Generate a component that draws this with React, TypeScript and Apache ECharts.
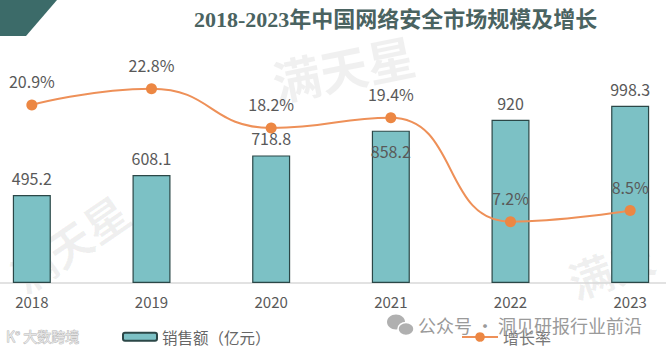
import React, { useEffect, useRef } from "react";
import * as echarts from "echarts";

const years = ["2018", "2019", "2020", "2021", "2022", "2023"];
const sales = [495.2, 608.1, 718.8, 858.2, 920, 998.3];
const growth = [20.9, 22.8, 18.2, 19.4, 7.2, 8.5];
const salesName = "销售额（亿元）";
const growthName = "增长率";
const titleText = "2018-2023年中国网络安全市场规模及增长";

const FONT = "'Noto Sans CJK SC', 'Noto Sans', sans-serif";
// The plotting area extends past both page edges in the reference;
// the chart canvas is shifted left by OFF and widened accordingly.
const OFF = 28;
const W = 718;

export default function App() {
  const ref = useRef<HTMLDivElement>(null);
  useEffect(() => {
    if (!ref.current) return;
    const chart = echarts.init(ref.current, null, { renderer: "svg" });
    const wm = "rgba(0,0,0,0.06)";
    chart.setOption({
      animation: false,
      backgroundColor: "#ffffff",
      title: {
        text: titleText,
        left: 189 + OFF,
        top: 3,
        textStyle: {
          fontSize: 22,
          fontWeight: "bold",
          color: "#4a6361",
          fontFamily: "'Liberation Serif', 'Noto Sans CJK SC', serif",
        },
      },
      grid: { left: 0, right: 0, top: 70, bottom: 69 },
      legend: [
        {
          data: [salesName],
          left: 117 + OFF,
          top: 324,
          itemWidth: 34,
          itemHeight: 8,
          itemGap: 3,
          textStyle: { fontSize: 15.5, color: "#666666", fontFamily: FONT },
        },
        {
          data: [growthName],
          left: 456 + OFF,
          top: 324,
          itemWidth: 36,
          itemHeight: 12,
          itemGap: 3,
          textStyle: { fontSize: 16, color: "#777777", fontFamily: FONT },
        },
      ],
      xAxis: {
        type: "category",
        data: years,
        axisLine: { lineStyle: { color: "#d9d9d9", width: 1.5 } },
        axisTick: { show: false },
        axisLabel: { fontSize: 15, color: "#595959", margin: 11, fontFamily: FONT },
      },
      yAxis: [
        { type: "value", min: 0, max: 1200, show: false, splitLine: { show: false } },
        { type: "value", min: 0, max: 25, show: false, splitLine: { show: false } },
      ],
      series: [
        {
          name: salesName,
          type: "bar",
          barWidth: 38,
          data: sales.map((v, i) =>
            years[i] === "2021"
              ? { value: v, label: { position: "insideTop", distance: 12 } }
              : v
          ),
          itemStyle: { color: "#7cc1c5", borderColor: "#2b4747", borderWidth: 1.2 },
          label: {
            show: true,
            position: "top",
            distance: 9,
            fontSize: 16,
            color: "#595959",
            fontFamily: FONT,
          },
          z: 2,
        },
        {
          name: growthName,
          type: "line",
          yAxisIndex: 1,
          smooth: true,
          data: growth,
          symbol: "circle",
          symbolSize: 11,
          lineStyle: { color: "#ee9058", width: 2 },
          itemStyle: { color: "#ec8743" },
          label: {
            show: true,
            position: "top",
            distance: 10,
            fontSize: 16,
            color: "#595959",
            fontFamily: FONT,
            formatter: "{c}%",
          },
          z: 3,
        },
      ],
      graphic: [
        {
          type: "polygon",
          shape: { points: [[OFF, 0], [57 + OFF, 0], [26 + OFF, 36], [OFF, 36]] },
          style: { fill: "#3c6b69" },
        },
        {
          type: "text",
          x: 268 + OFF,
          y: 58,
          rotation: 0.2,
          style: { text: "满天星", fontSize: 48, fontWeight: "bold", fill: wm, fontFamily: FONT },
          z: 0,
        },
        {
          type: "text",
          x: 2 + OFF,
          y: 262,
          rotation: 0.6,
          style: { text: "满天星", fontSize: 44, fontWeight: "bold", fill: wm, fontFamily: FONT },
          z: 0,
        },
        {
          type: "text",
          x: 562 + OFF,
          y: 262,
          rotation: 0.35,
          style: { text: "满天", fontSize: 44, fontWeight: "bold", fill: wm, fontFamily: FONT },
          z: 0,
        },
        {
          type: "ellipse",
          shape: { cx: 396 + OFF, cy: 322, rx: 9, ry: 7.5 },
          style: { fill: "#b0b0b0" },
          z: 10,
        },
        {
          type: "ellipse",
          shape: { cx: 406 + OFF, cy: 329, rx: 8, ry: 6.5 },
          style: { fill: "#b0b0b0", stroke: "#ffffff", lineWidth: 1.5 },
          z: 10,
        },
        {
          type: "text",
          x: 418 + OFF,
          y: 325,
          style: {
            text: "公众号 · 洞见研报行业前沿",
            fontSize: 18,
            fill: "#9a9a9a",
            fontFamily: FONT,
            textVerticalAlign: "middle",
          },
          z: 10,
        },
        {
          type: "text",
          x: 6 + OFF,
          y: 336,
          style: {
            text: "K° 大数跨境",
            fontSize: 14,
            fill: "#e6e6e6",
            stroke: "#b3b3b3",
            lineWidth: 0.8,
            fontFamily: FONT,
            textVerticalAlign: "middle",
          },
          z: 10,
        },
      ],
    });
    return () => chart.dispose();
  }, []);
  return (
    <div
      ref={ref}
      style={{ position: "fixed", left: -OFF, top: 0, width: W, height: 352 }}
    />
  );
}
